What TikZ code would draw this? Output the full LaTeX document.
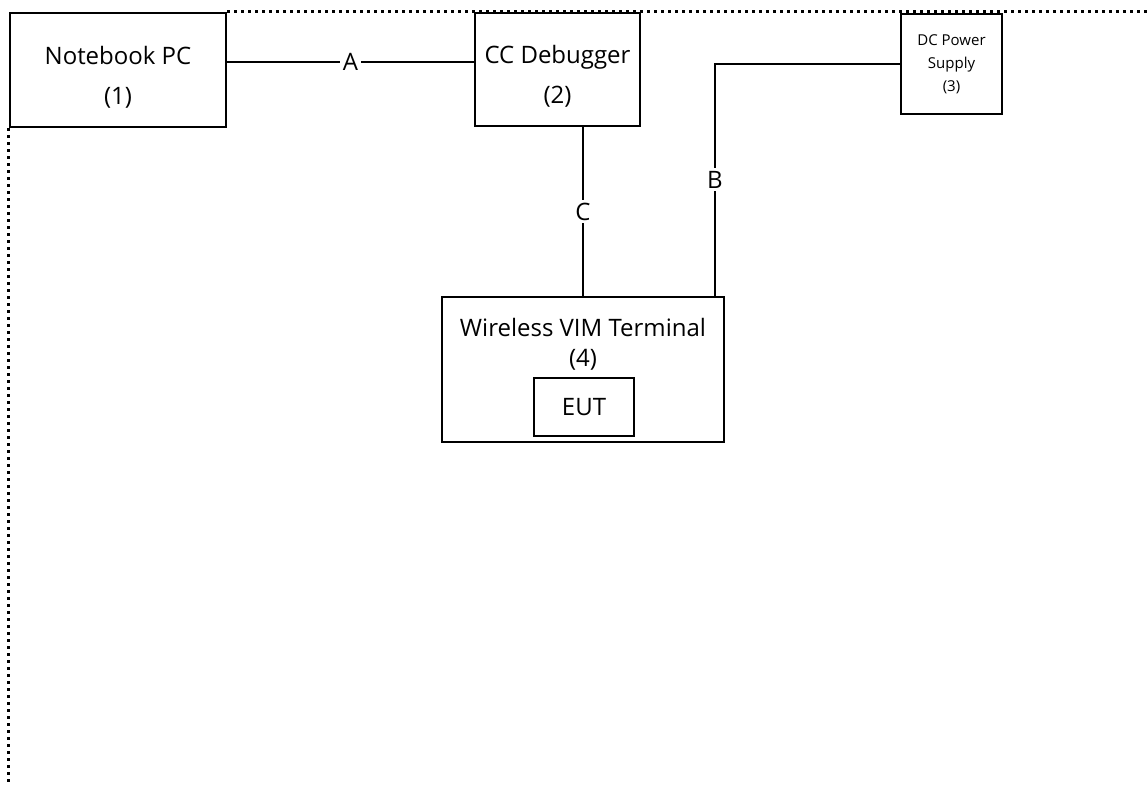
\documentclass[tikz,border=0pt]{standalone}
\usepackage{fontspec}
\setmainfont{Open Sans}
\usetikzlibrary{positioning}

\newcommand\dn[1]{\raisebox{-3.5pt}[\height][\depth]{#1}}

\tikzset{
  unit/.style={draw, line width=1.4pt, align=center, inner sep=0pt,
    font=\fontsize{12}{20}\selectfont},
  cable/.style={line width=1.1pt},
  frame/.style={line width=1.5pt, dash pattern=on 1.2pt off 2.3pt},
  tag/.style={fill=white, inner sep=1.5pt, font=\fontsize{12}{14}\selectfont}
}

\begin{document}
\begin{tikzpicture}[x=0.5pt, y=-0.5pt]
  \useasboundingbox (0,0) rectangle (1148,786);

  % test frame (dotted)
  \coordinate (fr) at (1148,14);
  \coordinate (fb) at (11,786);

  \node[unit, minimum width=108pt, minimum height=57pt] (nb) at (118,70)
    {\dn{Notebook PC}\\\dn{(1)}};
  \node[unit, minimum width=82.5pt, minimum height=56.5pt] (dbg) at (557.5,69.5)
    {\dn{CC Debugger}\\\dn{(2)}};
  \node[unit, minimum width=50.5pt, minimum height=50pt,
    font=\fontsize{7.5}{11.5}\selectfont] (psu) at (951.5,64)
    {DC Power\\Supply\\(3)};

  \node[unit, minimum width=141pt, minimum height=72.5pt] (vim) at (583,369.5) {};
  \node[align=center, inner sep=0pt, font=\fontsize{12}{15}\selectfont] (vimtxt)
    at (583,344) {Wireless VIM Terminal\\(4)};
  \node[unit, minimum width=50pt, minimum height=29pt] (eut) at (584,407) {EUT};

  \draw[frame] (nb.north east) -- (nb.north east -| fr);
  \draw[frame] (nb.south west) -- (nb.south west |- fb);

  % cables
  \draw[cable] ([yshift=4pt]nb.east) -- node[tag] {A} ([yshift=4pt]nb.east -| dbg.west);
  \draw[cable] (vim.north |- dbg.south) -- node[tag] {C} (vim.north);
  \draw[cable] (psu.west) -| node[tag, pos=0.75] {B} ([xshift=66pt]vim.north);
\end{tikzpicture}
\end{document}
